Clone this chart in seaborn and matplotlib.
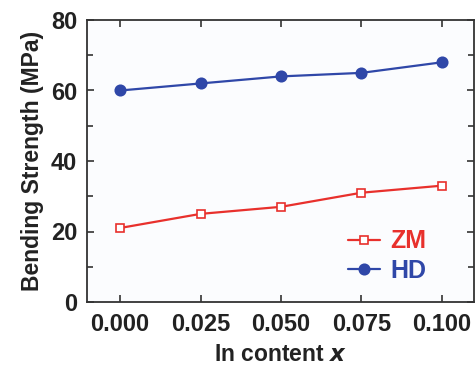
import matplotlib
matplotlib.use("Agg")
import matplotlib.pyplot as plt
import seaborn as sns
import pandas as pd
from matplotlib.ticker import MultipleLocator

x_vals = [0.000, 0.025, 0.050, 0.075, 0.100]
zm_vals = [21, 25, 27, 31, 33]
hd_vals = [60, 62, 64, 65, 68]
series = ["ZM", "HD"]
colors = {"ZM": "#e8302c", "HD": "#2f47a8"}

df = pd.DataFrame({
    "x": x_vals * 2,
    "y": zm_vals + hd_vals,
    "series": [series[0]] * len(x_vals) + [series[1]] * len(x_vals),
})

sns.set_theme(style="ticks")
plt.rcParams["font.family"] = ["Liberation Sans", "DejaVu Sans"]
plt.rcParams["font.weight"] = "bold"

fig = plt.figure(figsize=(4.75, 3.66), dpi=100)
ax = fig.add_axes([87/475, 1-302/366, (474-87)/475, (302-20)/366])
ax.set_facecolor("#fbfcfe")

for s, mk, mfc in [("ZM", "s", "white"), ("HD", "o", None)]:
    sub = df[df["series"] == s]
    kw = dict(markerfacecolor=mfc) if mfc else {}
    sns.lineplot(data=sub, x="x", y="y", ax=ax, color=colors[s], marker=mk,
                 markersize=7.5 if s == "HD" else 5.5, markeredgecolor=colors[s],
                 markeredgewidth=1.2, linewidth=1.6, label=s, **kw)

ax.set_xlim(-0.0103, 0.11)
ax.set_ylim(0, 80)
ax.set_xticks(x_vals)
ax.set_xticklabels([f"{v:.3f}" for v in x_vals])
ax.set_yticks([0, 20, 40, 60, 80])
ax.yaxis.set_minor_locator(MultipleLocator(10))
ax.tick_params(axis="both", which="both", direction="in", top=True, right=True,
               labelsize=17, width=1.2, color="#333333")
ax.tick_params(which="major", length=5)
ax.tick_params(which="minor", length=4)
ax.tick_params(axis="x", pad=8)
ax.tick_params(axis="y", pad=7)
for sp in ax.spines.values():
    sp.set_linewidth(1.3)
    sp.set_color("#333333")
for lab in ax.get_xticklabels() + ax.get_yticklabels():
    lab.set_fontweight("bold")
    lab.set_color("#222222")

ax.set_xlabel("In content $\\boldsymbol{x}$", fontsize=16.5, fontweight="bold", color="#222222", labelpad=5)
ax.set_ylabel("Bending Strength (MPa)", fontsize=16.5, fontweight="bold", color="#222222", labelpad=5)

leg = ax.legend(loc="center left", bbox_to_anchor=((348-87)/387, (302-256)/282), frameon=False,
                prop={"weight": "bold", "size": 18}, handlelength=1.28,
                handletextpad=0.4, labelspacing=0.2, borderpad=0, borderaxespad=0)
for t, s in zip(leg.get_texts(), series):
    t.set_color(colors[s])

fig.savefig("out.png", dpi=100)
